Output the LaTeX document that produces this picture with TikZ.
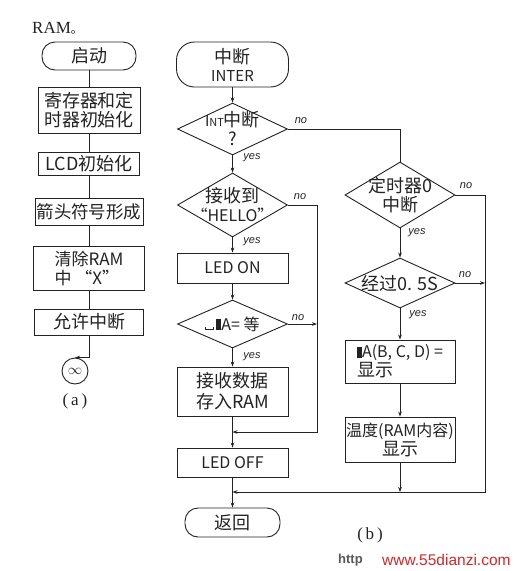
\documentclass[tikz,border=0pt]{standalone}
\usepackage{fontspec}
\setmainfont{Noto Sans CJK SC}
\newfontfamily\serifft{Liberation Serif}
\newfontfamily\latsans{Liberation Sans}
\usetikzlibrary{shapes.geometric,arrows.meta}
\definecolor{ink}{RGB}{35,35,35}
\definecolor{wm}{RGB}{212,40,40}
\tikzset{
  ln/.style={line width=0.9pt, draw=ink},
  arr/.style={ln, -{Stealth[length=5pt,width=3.6pt]}},
  pbox/.style={ln, rectangle, inner sep=0pt, align=center, text=ink,
    font=\fontsize{18}{19}\selectfont},
  term/.style={pbox, rounded corners=13pt},
  dia/.style={ln, diamond, inner sep=0pt},
  dtext/.style={align=center, inner sep=0pt, text=ink,
    font=\fontsize{18}{19}\selectfont},
  yn/.style={inner sep=0pt, text=ink, font=\latsans\itshape\fontsize{11}{12}\selectfont},
  captext/.style={inner sep=0pt, text=ink, font=\serifft\fontsize{17}{18}\selectfont},
}
\begin{document}
\begin{tikzpicture}[x=1pt,y=-1pt]
\useasboundingbox[fill=white] (0,0) rectangle (518,571);

% ---------- (a) ----------
\node[captext, anchor=west, font=\serifft\fontsize{17}{18}\selectfont] (ram) at (32,28) {RAM{\rmfamily\fontsize{12}{12}\selectfont 。}};
\node[term, minimum width=94pt, minimum height=28pt] (t0) at (89,56) {启动};
\node[pbox, minimum width=102pt, minimum height=46pt] (b1) at (89,110) {寄存器和定\\时器初始化};
\node[pbox, minimum width=101pt, minimum height=23pt] (b2) at (89,163.5) {LCD初始化};
\node[pbox, minimum width=108pt, minimum height=27pt, font=\fontsize{17.5}{19}\selectfont] (b3) at (89,211.5) {箭头符号形成};
\node[pbox, minimum width=111pt, minimum height=44pt, align=left, font=\fontsize{17}{19}\selectfont] (b4) at (89,268) {清除RAM\\中 “X”};
\node[pbox, minimum width=109pt, minimum height=26pt] (b5) at (89,322) {允许中断};
\node[ln, circle, minimum size=26pt, inner sep=0pt, text=ink, font=\fontsize{15}{15}\selectfont] (inf) at (75,371) {$\infty$};
\node[captext] (capa) at (75,401) {(\,a\,)};

\draw[ln] (t0) -- (b1);
\draw[ln] (b1) -- (b2);
\draw[ln] (b2) -- (b3);
\draw[ln] (b3) -- (b4);
\draw[ln] (b4) -- (b5);
\draw[arr] (b5.south) |- (inf.north);

% ---------- (b) ----------
\node[term, rounded corners=18pt, minimum width=112pt, minimum height=45pt] (t1) at (232.5,64.5)
  {中断\\[-1pt]{\fontsize{15}{15}\selectfont INTER}};
\node[dia, minimum width=110pt, minimum height=52pt,
  label={[dtext]center:{\fontsize{15}{15}\selectfont I}{\fontsize{11}{11}\selectfont NT}中断\\?}] (d1) at (232.5,129) {};
\node[dia, minimum width=110pt, minimum height=64pt,
  label={[dtext]center:接收到\\{\fontsize{16}{17}\selectfont “HELLO”}}] (d2) at (232.5,205) {};
\node[pbox, minimum width=111pt, minimum height=30pt, font=\fontsize{16}{17}\selectfont] (r1) at (232.5,268) {LED ON};
\node[dia, minimum width=110pt, minimum height=48pt,
  label={[dtext, font=\fontsize{16}{17}\selectfont]center:\rule{0.7pt}{3pt}\rule{7pt}{0.7pt}\rule{0.7pt}{3pt}\,\rule{5pt}{11pt}A= 等}] (d3) at (232.5,324) {};
\node[pbox, minimum width=111pt, minimum height=49pt, font=\fontsize{18}{21}\selectfont] (r2) at (232.5,391.5) {接收数据\\存入RAM};
\node[pbox, minimum width=111pt, minimum height=29pt, font=\fontsize{16}{17}\selectfont] (r3) at (232.5,462.5) {LED OFF};
\node[term, minimum width=95pt, minimum height=29pt] (t2) at (232.5,522.5) {返回};

\node[dia, minimum width=110pt, minimum height=66pt,
  label={[dtext]center:定时器0\\中断}] (d4) at (400,195) {};
\node[dia, minimum width=110pt, minimum height=50pt,
  label={[dtext]center:经过0. 5S}] (d5) at (400,283) {};
\node[pbox, minimum width=110pt, minimum height=43pt, align=left, font=\fontsize{16}{19}\selectfont] (r4) at (400,361.5)
  {\rule{5pt}{11pt}A(B, C, D) =\\{\fontsize{18}{19}\selectfont 显示}};
\node[pbox, minimum width=110pt, minimum height=45pt, font=\fontsize{16}{19}\selectfont] (r5) at (400,439.5)
  {温度(RAM内容)\\{\fontsize{18}{19}\selectfont 显示}};

\coordinate (c317) at (317,432);
\coordinate (c485) at (485,492);
\coordinate (m1) at (232.5,432);
\coordinate (m2) at (232.5,492);

\draw[arr] (t1) -- (d1);
\draw[arr] (d1) -- (d2);
\draw[arr] (d2) -- (r1);
\draw[arr] (r1) -- (d3);
\draw[arr] (d3) -- (r2);
\draw[arr] (r2) -- (r3);
\draw[arr] (r3) -- (t2);
\draw[ln] (d1.east) -| (d4.north);
\draw[arr] (d2.east) -| (c317) -- (m1);
\draw[arr] (d3.east) -- (d3.east -| c317);
\draw[arr] (d4) -- (d5);
\draw[arr] (d5) -- (r4);
\draw[arr] (r4) -- (r5);
\draw[arr] (d4.east) -| (c485) -- (m2);
\draw[arr] (d5.east) -- (d5.east -| c485);
\draw[arr] (r5.south) -- (r5.south |- m2);

% yes / no labels
\node[yn] (n1) at (301,121) {no};
\node[yn] (y1) at (252,158) {yes};
\node[yn] (n2) at (300,197) {no};
\node[yn] (y2) at (252,242) {yes};
\node[yn] (n3) at (298,318) {no};
\node[yn] (y3) at (252,357) {yes};
\node[yn] (n4) at (466,186) {no};
\node[yn] (y4) at (417,233) {yes};
\node[yn] (n5) at (465,275) {no};
\node[yn] (y5) at (418,315) {yes};

\node[captext] (capb) at (370,535) {(\,b\,)};
\node[anchor=west, inner sep=0pt, text=black!65, font=\latsans\bfseries\fontsize{13}{13}\selectfont] (http) at (338,560) {http};
\node[anchor=west, inner sep=0pt, text=wm, font=\latsans\fontsize{15.5}{16}\selectfont] (www) at (382,560) {www.55dianzi.com};
\end{tikzpicture}
\end{document}
